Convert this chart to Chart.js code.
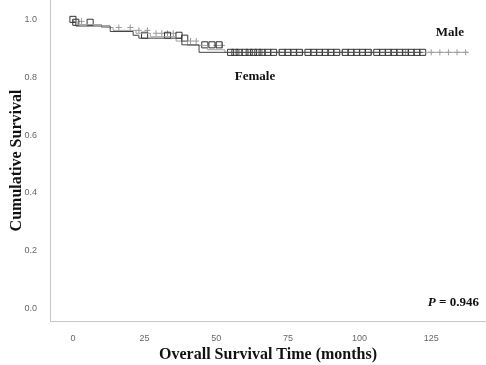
<!DOCTYPE html>
<html>
<head>
<meta charset="utf-8">
<script src="https://cdn.jsdelivr.net/npm/chart.js@4/dist/chart.umd.min.js"></script>
<style>
  html, body { margin: 0; padding: 0; background: #fff; }
  #chart { width: 486px; height: 365px; }
</style>
</head>
<body>
<div id="chart"><canvas id="myChart" width="486" height="365"></canvas></div>
<script>
// Kaplan-Meier steps (months, cumulative survival)
const maleTimes = [0, 1.5, 10, 14, 22, 27, 36, 40, 47, 53, 57, 138];
const maleSurv = [1.0, 0.993, 0.982, 0.972, 0.962, 0.952, 0.940, 0.925, 0.910, 0.895, 0.886, 0.886];
const femaleTimes = [0, 1, 13, 21, 23, 38, 44, 54, 122];
const femaleSurv = [1.0, 0.99, 0.977, 0.958, 0.945, 0.935, 0.912, 0.886, 0.886];

// censored cases
const femaleCensored = [0, 1, 6, 25, 33, 37, 39, 46, 48.5, 51, 55, 56.5, 58, 60, 61.5, 63, 64.5, 66, 68, 70,
  73, 75, 77, 79, 82, 84, 86, 88, 90, 92, 95, 97, 99, 101, 103, 106, 108, 110, 112, 114, 116, 118, 120, 122];
const maleCensored = [3, 16, 20, 23, 26, 29, 31, 33, 35, 41, 43, 50, 52, 58, 62, 66, 72, 80, 94, 104, 116,
  125, 128, 131, 134, 137];

const xTicks = [0, 25, 50, 75, 100, 125];
const yTicks = [0, 0.2, 0.4, 0.6, 0.8, 1.0];

function steps(times, surv) {
    return times.map((t, i) => ({ x: t, y: surv[i] }));
}

// survival value at time t for a step curve
function survAt(times, surv, t) {
    let v = surv[0];
    for (let i = 0; i < times.length; i++) {
        if (times[i] <= t) v = surv[i];
    }
    return v;
}

const textPlugin = {
    id: 'kmText',
    afterDatasetsDraw(chart) {
        const ctx = chart.ctx;
        const x = chart.scales.x, y = chart.scales.y;
        ctx.save();
        ctx.fillStyle = '#111';
        ctx.textBaseline = 'middle';
        ctx.textAlign = 'center';
        ctx.font = 'bold 13px "Liberation Serif", "Times New Roman", serif';
        ctx.fillText('Male', x.getPixelForValue(131.5), y.getPixelForValue(0.953));
        ctx.fillText('Female', x.getPixelForValue(63.5), y.getPixelForValue(0.801));
        // P value
        const px = x.getPixelForValue(123.8), py = y.getPixelForValue(0.019);
        ctx.textAlign = 'left';
        ctx.font = 'italic bold 13px "Liberation Serif", "Times New Roman", serif';
        ctx.fillText('P', px, py);
        const w = ctx.measureText('P').width;
        ctx.font = 'bold 13px "Liberation Serif", "Times New Roman", serif';
        ctx.fillText(' = 0.946', px + w, py);
        ctx.restore();
    }
};

const tickFont = { family: '"Liberation Sans", Arial, sans-serif', size: 9 };
const titleFont = { family: '"Liberation Serif", "Times New Roman", serif', size: 16, weight: 'bold' };

new Chart(document.getElementById('myChart'), {
    type: 'scatter',
    data: {
        datasets: [
            {
                label: 'Female',
                data: steps(femaleTimes, femaleSurv),
                showLine: true,
                stepped: 'after',
                borderColor: '#444',
                borderWidth: 1,
                pointRadius: 0
            },
            {
                label: 'Male',
                data: steps(maleTimes, maleSurv),
                showLine: true,
                stepped: 'after',
                borderColor: '#a0a0a0',
                borderWidth: 1,
                pointRadius: 0
            },
            {
                label: 'Female censored',
                data: femaleCensored.map(t => ({ x: t, y: survAt(femaleTimes, femaleSurv, t) })),
                pointStyle: 'rect',
                pointRadius: 4.3,
                borderColor: '#333',
                borderWidth: 1,
                backgroundColor: 'rgba(255,255,255,0)'
            },
            {
                label: 'Male censored',
                data: maleCensored.map(t => ({ x: t, y: survAt(maleTimes, maleSurv, t) })),
                pointStyle: 'cross',
                pointRadius: 3,
                borderColor: '#999',
                borderWidth: 1
            }
        ]
    },
    options: {
        responsive: false,
        animation: false,
        layout: { padding: 0, autoPadding: false },
        plugins: {
            legend: { display: false },
            tooltip: { enabled: false }
        },
        scales: {
            x: {
                type: 'linear',
                min: -8,
                max: 144.1,
                afterBuildTicks: s => { s.ticks = xTicks.map(v => ({ value: v })); },
                afterFit: s => { s.height = 44; s.paddingLeft = 0; s.paddingRight = 0; },
                grid: { display: false },
                border: { display: true, color: '#c8c8c8', width: 1 },
                ticks: { font: tickFont, color: '#666', padding: 4 },
                title: {
                    display: true,
                    text: 'Overall Survival Time (months)',
                    font: titleFont,
                    color: '#111',
                    padding: { top: 0, bottom: 1 }
                }
            },
            y: {
                min: -0.043,
                max: 1.067,
                afterBuildTicks: s => { s.ticks = yTicks.map(v => ({ value: v })); },
                afterFit: s => { s.width = 50; s.paddingTop = 0; s.paddingBottom = 0; },
                grid: { display: false },
                border: { display: true, color: '#c8c8c8', width: 1 },
                ticks: {
                    font: tickFont,
                    color: '#666',
                    padding: 5,
                    callback: v => v.toFixed(1)
                },
                title: {
                    display: true,
                    text: 'Cumulative Survival',
                    font: titleFont,
                    color: '#111',
                    padding: { top: 7, bottom: 0 }
                }
            }
        }
    },
    plugins: [textPlugin]
});
</script>
</body>
</html>
